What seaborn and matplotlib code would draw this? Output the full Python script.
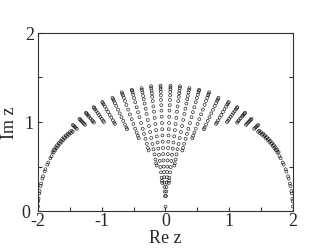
import numpy as np
import pandas as pd
import seaborn as sns
import matplotlib.pyplot as plt
from matplotlib.ticker import MultipleLocator
from matplotlib.transforms import ScaledTranslation

# zeros in the right half-plane, read off the picture as rays from the origin:
# ray angle (degrees from the real axis) and the radii of the zeros on it
ray_angles = [86.8, 80.8, 74.8, 68.8, 62.8, 56.8, 51.0, 46.0, 41.5, 37.5, 33.6]
ray_radii = [
    [0.17, 0.22, 0.27, 0.32, 0.38, 0.44, 0.50, 0.57, 0.64, 0.71, 0.78, 0.85,
     0.92, 0.99, 1.06, 1.13, 1.19, 1.25, 1.30, 1.34, 1.37, 1.39, 1.41],
    [0.32, 0.345, 0.38, 0.44, 0.50, 0.57, 0.64, 0.71, 0.78, 0.85, 0.92, 0.99,
     1.06, 1.13, 1.19, 1.25, 1.30, 1.34, 1.37, 1.40, 1.42],
    [0.53, 0.555, 0.60, 0.66, 0.72, 0.78, 0.85, 0.92, 0.99, 1.06, 1.13, 1.19,
     1.25, 1.30, 1.34, 1.38, 1.41, 1.43],
    [0.73, 0.76, 0.81, 0.87, 0.93, 0.99, 1.06, 1.13, 1.19, 1.25, 1.31, 1.36,
     1.40, 1.43, 1.45, 1.46],
    [0.92, 0.95, 0.99, 1.04, 1.10, 1.16, 1.22, 1.28, 1.34, 1.39, 1.43, 1.46,
     1.48, 1.50],
    [1.10, 1.12, 1.16, 1.21, 1.26, 1.31, 1.36, 1.41, 1.45, 1.48, 1.50, 1.52],
    [1.26, 1.28, 1.31, 1.35, 1.39, 1.43, 1.47, 1.51, 1.54, 1.56, 1.575],
    [1.39, 1.41, 1.44, 1.47, 1.50, 1.53, 1.56, 1.59, 1.61, 1.62],
    [1.50, 1.52, 1.54, 1.57, 1.60, 1.62, 1.64, 1.655, 1.665],
    [1.59, 1.61, 1.63, 1.65, 1.67, 1.685, 1.70],
    [1.67, 1.69, 1.71, 1.73, 1.745],
]

# zeros along the outer arc (one entry per zero)
arc_angle = [31.5, 31.5, 30.5, 30.5, 29.5, 29.5, 28.5, 28.5, 27.5, 27.5,
             26.5, 26.5, 25.5, 25.5, 24.5, 24.5, 23.5, 23.5, 22.5, 22.5,
             21.5, 21.5, 20.5, 20.5, 19.0, 18.2, 16.5, 15.7, 14.0, 13.2,
             11.5, 10.7, 9.0, 8.2, 6.5, 5.7, 4.0, 3.2, 1.5]
arc_r = [1.705, 1.725, 1.723, 1.743, 1.741, 1.761, 1.758, 1.778, 1.774, 1.794,
         1.790, 1.810, 1.805, 1.825, 1.820, 1.840, 1.834, 1.854, 1.848, 1.868,
         1.861, 1.881, 1.873, 1.893, 1.891, 1.900, 1.918, 1.925, 1.941, 1.947,
         1.960, 1.965, 1.975, 1.980, 1.987, 1.990, 1.995, 1.997, 1.999]

# single zero on the imaginary axis
axis_im = [0.05]

ang, rad = [], []
for a, rs in zip(ray_angles, ray_radii):
    ang += [a] * len(rs)
    rad += rs
ang += arc_angle
rad += arc_r
ang = np.radians(ang)
rad = np.array(rad)

re_right = rad * np.cos(ang)
im_right = rad * np.sin(ang)
df = pd.DataFrame({
    're': np.concatenate([re_right, -re_right, np.zeros(len(axis_im))]),
    'im': np.concatenate([im_right, im_right, axis_im]),
})

sns.set_style("ticks")
plt.rcParams['font.family'] = ['Liberation Serif', 'DejaVu Serif']

fig = plt.figure(figsize=(3.3, 2.51), dpi=100)
ax = fig.add_axes([0.115, 0.155, 0.773, 0.71])

sns.scatterplot(data=df, x='re', y='im', ax=ax, s=4.5, marker='o',
                facecolor='none', edgecolor='#1a1a1a', linewidth=0.45)

ax.set_xlim(-2, 2)
ax.set_ylim(0, 2)
ax.set_xticks([-2, -1, 0, 1, 2])
ax.set_xticklabels(['-2', '-1', '0', '1', '2'])
ax.set_yticks([0, 1, 2])
ax.xaxis.set_minor_locator(MultipleLocator(0.5))
ax.yaxis.set_minor_locator(MultipleLocator(0.5))
ax.tick_params(which='both', direction='in', right=True, top=False,
               length=3, width=0.8, labelsize=13, color='#333333')
ax.tick_params(axis='x', pad=1)
ax.tick_params(axis='y', pad=3)
for sp in ax.spines.values():
    sp.set_linewidth(0.8)
    sp.set_color('#333333')

# nudge the corner "0" a little left so it clears the "-2" below it
zero_lab = ax.get_yticklabels()[0]
zero_lab.set_transform(zero_lab.get_transform()
                       + ScaledTranslation(-0.04, 0.01, fig.dpi_scale_trans))

ax.set_xlabel('Re z', fontsize=13, labelpad=0)
ax.set_ylabel('Im z', fontsize=13, labelpad=2)

fig.savefig('out.png', dpi=100)
